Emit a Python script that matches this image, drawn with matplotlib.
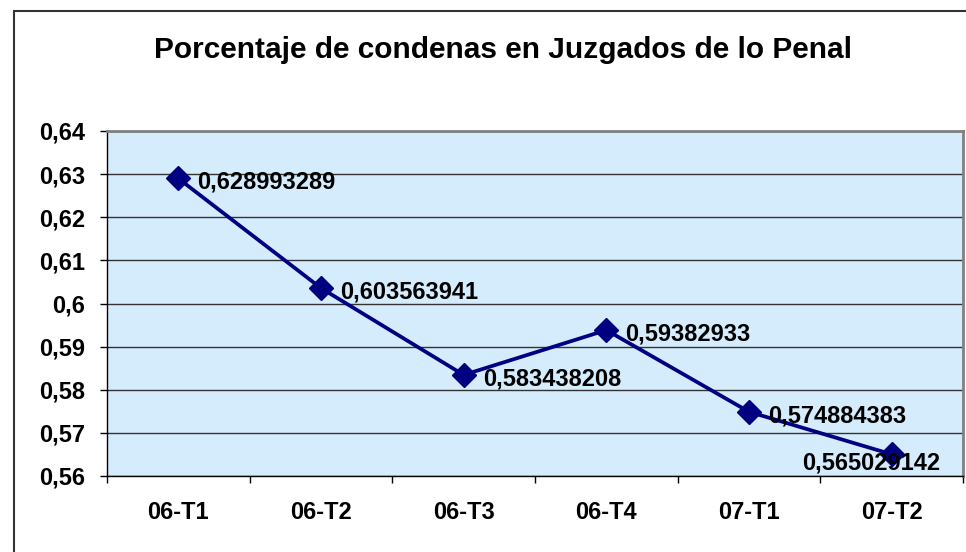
import matplotlib
matplotlib.use("Agg")
import matplotlib.pyplot as plt
from matplotlib.patches import Rectangle

categorias = ["06-T1", "06-T2", "06-T3", "06-T4", "07-T1", "07-T2"]
porcentajes = [0.628993289, 0.603563941, 0.583438208, 0.59382933, 0.574884383, 0.565029142]
etiquetas = ["0,628993289", "0,603563941", "0,583438208", "0,59382933", "0,574884383", "0,565029142"]
yticks = [0.56, 0.57, 0.58, 0.59, 0.60, 0.61, 0.62, 0.63, 0.64]
ytick_labels = ["0,56", "0,57", "0,58", "0,59", "0,6", "0,61", "0,62", "0,63", "0,64"]

plt.rcParams['font.family'] = ['Liberation Sans', 'DejaVu Sans']
plt.rcParams['font.weight'] = 'bold'

fig = plt.figure(figsize=(9.66, 5.52), dpi=100)
ax = fig.add_axes([107/966, 1-476/552, 856/966, 345/552])

# marco exterior del grafico
fig.patches.append(Rectangle((14/966, -0.1), 1.2, 1.1 - 11/552, transform=fig.transFigure,
                             fill=False, edgecolor='#333333', linewidth=1.5))

ax.set_facecolor('#D5ECFC')
x = range(len(categorias))
ax.plot(x, porcentajes, color='#000080', linewidth=2.7, marker='D', markersize=12, zorder=3)

for i, (v, t) in enumerate(zip(porcentajes, etiquetas)):
    if i == len(porcentajes) - 1:
        ax.annotate(t, (i, v), xytext=(-20, -9), textcoords='offset pixels',
                    ha='center', va='center', fontsize=17, fontweight='bold', zorder=4)
    else:
        ax.annotate(t, (i, v), xytext=(19, -4), textcoords='offset pixels',
                    ha='left', va='center', fontsize=17, fontweight='bold', zorder=4)

ax.set_xlim(-0.5, len(categorias) - 0.5)
ax.set_ylim(0.56, 0.64)
ax.set_yticks(yticks)
ax.set_yticklabels(ytick_labels)
ax.set_xticks([i for i in x])
ax.set_xticklabels(categorias)
ax.set_xticks([i - 0.5 for i in range(len(categorias) + 1)], minor=True)
ax.tick_params(axis='x', which='major', length=0, pad=18, labelsize=17)
ax.tick_params(axis='x', which='minor', length=5, width=1, color='black')
ax.tick_params(axis='y', length=5, width=1, pad=11, labelsize=17)
ax.yaxis.grid(True, color='#333333', linewidth=1)
ax.set_axisbelow(True)

for s in ['top', 'right']:
    ax.spines[s].set_color('#808080')
    ax.spines[s].set_linewidth(2)
for s in ['left', 'bottom']:
    ax.spines[s].set_color('black')
    ax.spines[s].set_linewidth(1)

fig.text(503/966, 1-50/552, "Porcentaje de condenas en Juzgados de lo Penal",
         ha='center', va='center', fontsize=21.5, fontweight='bold')

fig.savefig("out.png", dpi=100)
